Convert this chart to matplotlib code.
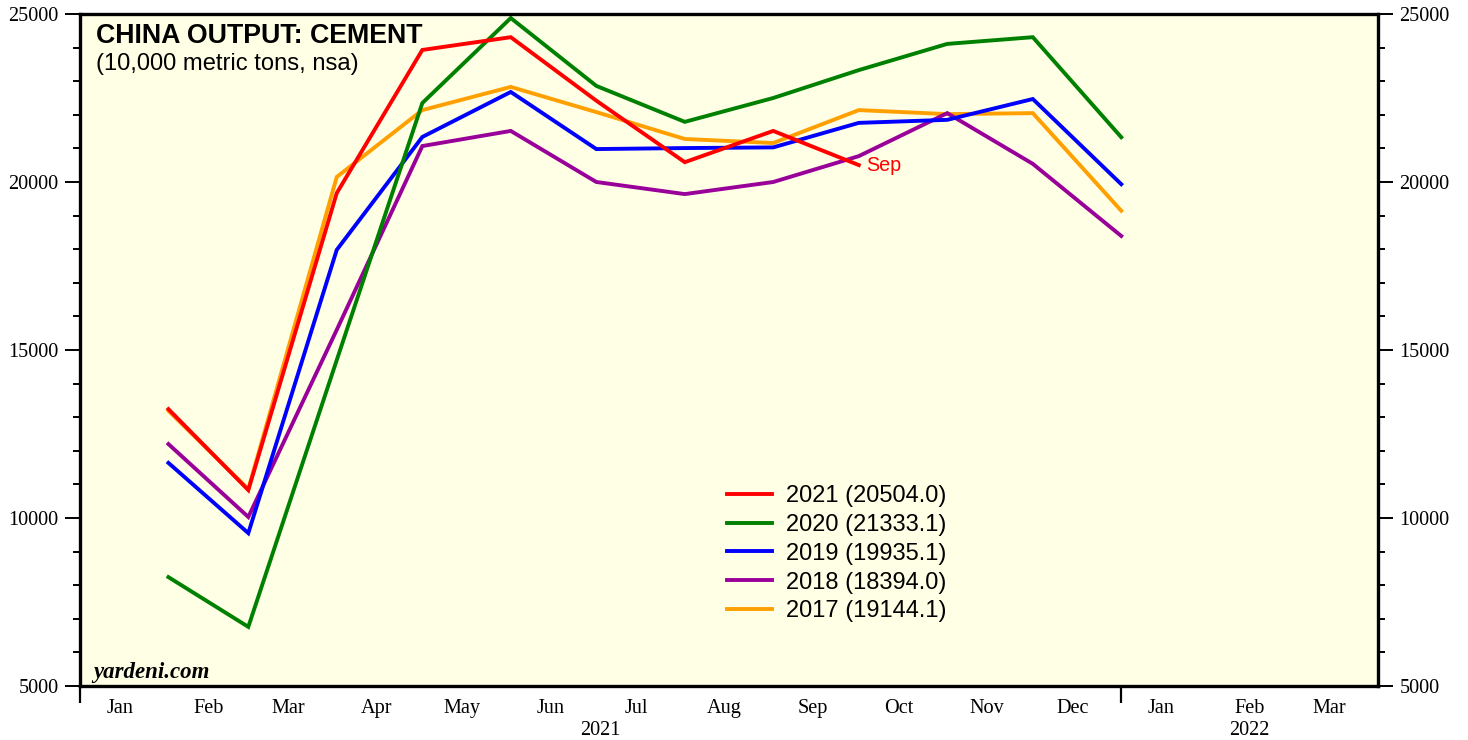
import matplotlib
matplotlib.use("Agg")
import matplotlib.pyplot as plt
import matplotlib.dates as mdates
from matplotlib.ticker import MultipleLocator, FixedLocator, NullFormatter
import pandas as pd
import datetime as dt

# ---- data ----
years = ["2021", "2020", "2019", "2018", "2017"]
last_values = ["20504.0", "21333.1", "19935.1", "18394.0", "19144.1"]
colors = ["#ff0000", "#008000", "#0000ff", "#990099", "#ffa000"]

v2021 = [13240, 10830, 19670, 23930, 24310, 22420, 20590, 21520, 20504]
v2020 = [8240, 6760, 14700, 22350, 24880, 22860, 21790, 22500, 23330, 24110, 24310, 21333]
v2019 = [11640, 9550, 17980, 21340, 22680, 20980, 21010, 21030, 21760, 21850, 22470, 19935]
v2018 = [12200, 10030, 15600, 21070, 21520, 20000, 19640, 20000, 20770, 22050, 20540, 18394]
v2017 = [13190, 10860, 20150, 22140, 22830, 22080, 21280, 21160, 22140, 22020, 22050, 19144]

month_labels = ["Jan", "Feb", "Mar", "Apr", "May", "Jun", "Jul", "Aug", "Sep",
                "Oct", "Nov", "Dec", "Jan", "Feb", "Mar"]
year_labels = ["2021", "2022"]
last_label = "Sep"

# points are plotted at the start of the following month
dates = pd.date_range("2021-02-01", periods=12, freq="MS")

series = [v2021, v2020, v2019, v2018, v2017]

plt.rcParams["font.family"] = ["Liberation Sans", "DejaVu Sans"]

fig = plt.figure(figsize=(14.68, 7.40), dpi=100)
ax = fig.add_axes([80 / 1468, 54 / 740, 1298 / 1468, 672 / 740])
ax.set_facecolor("#ffffe5")

x0 = dt.datetime(2021, 1, 1)
x1 = dt.datetime(2022, 4, 1)

handles = []
for yr, lv, col, vals in reversed(list(zip(years, last_values, colors, series))):
    h, = ax.plot(dates[:len(vals)], vals, color=col, lw=2.8,
                 solid_joinstyle="miter", label=f"{yr} ({lv})")
    handles.append(h)
handles = handles[::-1]

ax.annotate(last_label, xy=(mdates.date2num(dates[len(v2021) - 1]), v2021[-1]),
            xytext=(5, 0), textcoords="offset points", color="#ff0000",
            fontsize=14.2, va="center", ha="left")

ax.set_xlim(x0, x1)
ax.set_ylim(5000, 25000)

for s in ax.spines.values():
    s.set_linewidth(2.4)

# y axis
ax.yaxis.set_major_locator(MultipleLocator(5000))
ax.yaxis.set_minor_locator(MultipleLocator(1000))
ax.tick_params(axis="y", which="major", direction="out", length=11, width=1.4,
               labelsize=14.6, pad=4.5, left=True, right=True,
               labelleft=True, labelright=True)
ax.tick_params(axis="y", which="minor", direction="out", length=5.2, width=1.4,
               left=True, right=True)
for lab in ax.get_yticklabels():
    lab.set_fontfamily("Liberation Serif")
ax.yaxis.set_major_formatter(matplotlib.ticker.FuncFormatter(lambda v, p: f"{int(v)}"))

# x axis
year_starts = [mdates.date2num(dt.datetime(2021, 1, 1)), mdates.date2num(dt.datetime(2022, 1, 1))]
mid_months = [mdates.date2num(dt.datetime(2021 + (i // 12), i % 12 + 1, 15)) for i in range(15)]
ax.xaxis.set_major_locator(FixedLocator(year_starts))
ax.xaxis.set_major_formatter(NullFormatter())
ax.xaxis.set_minor_locator(FixedLocator(mid_months))
ax.xaxis.set_minor_formatter(matplotlib.ticker.FixedFormatter(month_labels))
ax.tick_params(axis="x", which="major", direction="out", length=12.5, width=1.6)
ax.tick_params(axis="x", which="minor", length=0, pad=9.5, labelsize=14.6)
for lab in ax.get_xticklabels(minor=True):
    lab.set_fontfamily("Liberation Serif")

# year labels
trans = matplotlib.transforms.blended_transform_factory(ax.transData, ax.transAxes)
xlo, xhi = mdates.date2num(x0), mdates.date2num(x1)
centers = [(year_starts[0] + year_starts[1]) / 2, (year_starts[1] + xhi) / 2]
for c, yl in zip(centers, year_labels):
    ax.text(c, -0.0725, yl, transform=trans, ha="center", va="baseline",
            fontsize=14.6, family="Liberation Serif")

# titles
ax.text(0.0123, 0.9568, "CHINA OUTPUT: CEMENT", transform=ax.transAxes,
        fontsize=19.3, fontweight="bold", va="baseline", ha="left")
ax.text(0.0123, 0.9167, "(10,000 metric tons, nsa)", transform=ax.transAxes,
        fontsize=17.1, va="baseline", ha="left")
ax.text(0.010, 0.0119, "yardeni.com", transform=ax.transAxes,
        fontsize=16.5, fontweight="bold", fontstyle="italic",
        family="Liberation Serif", va="baseline", ha="left")

ax.legend(handles=handles, loc="upper left", bbox_to_anchor=(0.4985, 0.2991),
          frameon=False, fontsize=17, handlelength=1.9, handletextpad=0.58,
          labelspacing=0.29, borderpad=0, borderaxespad=0)

fig.savefig("out.png", dpi=100, facecolor="white")
